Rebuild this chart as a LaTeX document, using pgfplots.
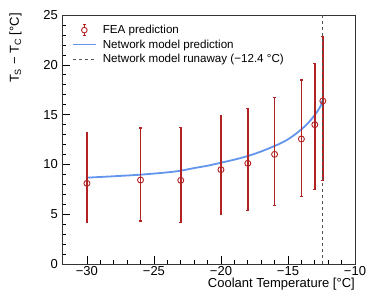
\documentclass[border=0pt]{standalone}
\usepackage{fontspec}
\setmainfont{Liberation Sans}
\usepackage{pgfplots}
\pgfplotsset{compat=1.18}
\usepackage{pgfplotstable}
\definecolor{feared}{HTML}{B22222}
\definecolor{netblue}{HTML}{6495ED}
\definecolor{runway}{HTML}{555555}

\pgfplotstableread{
x y ep em
-30 8.10 5.08 3.95
-26 8.43 5.22 4.11
-23 8.40 5.32 4.25
-20 9.47 5.42 4.48
-18 10.11 5.52 4.76
-16 11.01 5.69 5.12
-14 12.55 5.92 5.79
-13 13.99 6.16 6.53
-12.4 16.37 6.45 8.01
}\feadata

\pgfplotstableread{
x y
-30 8.67
-28 8.81
-26 8.97
-24 9.20
-23 9.37
-22 9.63
-21 9.87
-20 10.17
-19 10.48
-18 10.84
-17 11.30
-16 11.85
-15.5 12.15
-15 12.52
-14.5 12.98
-14 13.52
-13.5 14.15
-13 14.96
-12.7 15.55
-12.5 16.05
-12.45 16.40
}\netdata

\begin{document}
\begin{tikzpicture}
\begin{axis}[
  at={(0,0)}, anchor=south west,
  scale only axis,
  width=293pt, height=249pt,
  xmin=-31.86, xmax=-10,
  ymin=0, ymax=25,
  xtick={-30,-25,-20,-15,-10},
  xticklabels={−30,−25,−20,−15,−10},
  ytick={0,5,10,15,20,25},
  yticklabels={0,5,10,15,20,25},
  minor x tick num=4,
  minor y tick num=4,
  tick pos=left,
  tick align=inside,
  major tick length=8pt,
  minor tick length=4pt,
  every tick/.style={black, line width=0.6pt},
  axis line style={black!80, line width=0.7pt},
  tick label style={font=\fontsize{13}{15}\selectfont},
  xticklabel style={inner sep=1pt, yshift=-1pt},
  yticklabel style={inner sep=2pt, xshift=-2pt},
  xlabel={Coolant Temperature [°C]},
  xlabel style={font=\fontsize{13}{15}\selectfont, at={(axis description cs:1,-0.056)}, anchor=north east, inner sep=0pt},
  ylabel={T\textsubscript{S} − T\textsubscript{C} [°C]},
  ylabel style={font=\fontsize{13}{15}\selectfont, at={(axis description cs:-0.137,1.008)}, anchor=south east, inner sep=0pt},
  legend style={draw=none, fill=none, font=\fontsize{11.6}{13}\selectfont,
    at={(axis description cs:0.03,0.972)}, anchor=north west,
    row sep=0.6pt, inner sep=1pt},
  legend cell align=left,
]
\addlegendimage{legend image code/.code={
    \path[draw=none, fill=none] (0pt,0pt) -- (28pt,0pt);
    \draw[feared, line width=1.3pt] (11.5pt,-5.5pt) -- (11.5pt,5.5pt);
    \draw[feared, line width=1.3pt] (10.2pt,-5.5pt) -- (12.8pt,-5.5pt);
    \draw[feared, line width=1.3pt] (10.2pt,5.5pt) -- (12.8pt,5.5pt);
    \draw[feared, fill=white, line width=0.9pt] (11.5pt,0pt) circle (2.8pt);
  }}
\addlegendentry{FEA prediction}
\addlegendimage{legend image code/.code={
    \path[draw=none, fill=none] (0pt,0pt) -- (28pt,0pt);
    \draw[netblue, line width=1.7pt] (0pt,0pt) -- (23pt,0pt);}}
\addlegendentry{Network model prediction}
\addlegendimage{legend image code/.code={
    \path[draw=none, fill=none] (0pt,0pt) -- (28pt,0pt);
    \draw[runway, line width=0.8pt, dash pattern=on 3pt off 3pt] (0pt,0pt) -- (23pt,0pt);}}
\addlegendentry{Network model runaway (−12.4 °C)}

\addplot[netblue, line width=1.8pt, smooth, forget plot] table[x=x, y=y] {\netdata};

\addplot[forget plot, feared, line width=1.5pt, only marks,
  mark=o, mark size=3pt,
  mark options={fill=white, draw=feared, line width=0.9pt},
  error bars/.cd, y dir=both, y explicit,
  error bar style={feared, line width=1.5pt},
  error mark options={rotate=90, mark size=1.4pt, feared, line width=1.5pt}]
  table[x=x, y=y, y error plus=ep, y error minus=em] {\feadata};

\addplot[runway, line width=0.8pt, dash pattern=on 3pt off 3pt, forget plot] coordinates {(-12.4,0) (-12.4,25)};
\end{axis}
\pgfresetboundingbox
\useasboundingbox (-62pt,-33pt) rectangle (312pt,264pt);
\end{tikzpicture}
\end{document}
